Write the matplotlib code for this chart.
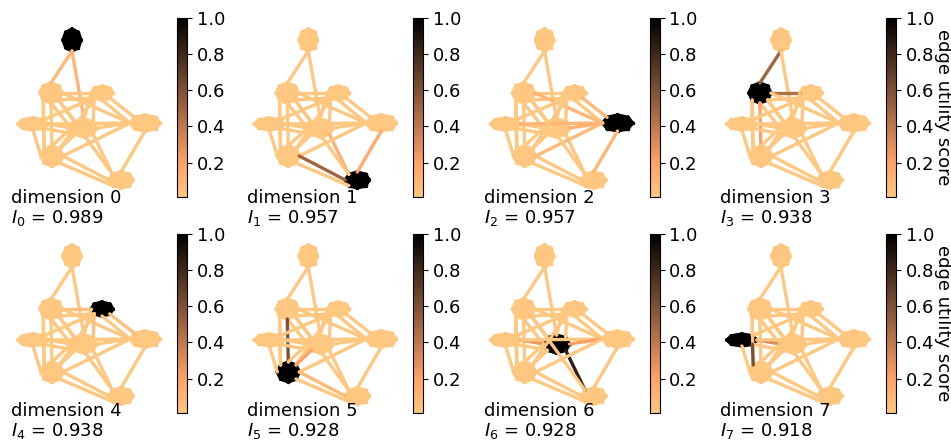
import numpy as np
import matplotlib.pyplot as plt
from matplotlib.collections import LineCollection
from matplotlib.colors import Normalize
from matplotlib.cm import ScalarMappable


# cluster layout, in pixel units of one panel (y grows downwards)
# order: top, bottom-right, right, upper-left, upper-right, lower-left, centre, left
hub_x = [72, 121, 145, 51, 102, 52, 84, 33]
hub_y = [40, 180, 123, 93, 93, 156, 128, 124]
hub_rx = [9, 12, 15, 11, 11, 11, 13, 15]
hub_ry = [11, 8, 8, 10, 7, 10, 9, 6]

# node pattern inside a cluster (ring of 8 + middle node)
ring_u = [-1.0, -0.7, 0.0, 0.7, 1.0, 0.7, 0.0, -0.7, 0.0]
ring_v = [0.0, -0.7, -1.0, -0.7, 0.0, 0.7, 1.0, 0.7, 0.0]

# links between clusters: (cluster a, cluster b, parallel edges)
links = [(0, 3, 1), (0, 6, 1), (3, 4, 2), (3, 6, 2), (3, 7, 1), (3, 5, 2),
         (3, 2, 1), (4, 7, 1), (4, 6, 2), (4, 2, 2), (4, 5, 1), (7, 6, 2),
         (7, 5, 2), (7, 2, 1), (6, 2, 1), (6, 5, 2), (6, 1, 1), (2, 1, 1),
         (5, 2, 1), (5, 1, 2), (3, 1, 1)]

# utility score of the links per dimension (others sit at the floor value)
link_scores = [
    {0: 0.08, 1: 0.1},
    {19: 0.5, 17: 0.15, 16: 0.12},
    {6: 0.1, 9: 0.08, 13: 0.1, 14: 0.12, 17: 0.1, 18: 0.08},
    {0: 0.5, 2: 0.45, 4: 0.25, 5: 0.2, 3: 0.1},
    {2: 0.05, 8: 0.05, 9: 0.05},
    {5: 0.6, 15: 0.2, 19: 0.08},
    {16: 0.85, 11: 0.25, 14: 0.2, 3: 0.15},
    {12: 0.6, 11: 0.3, 3: 0.1},
]
floor_score = 0.01
cluster_score = 1.0

info = [0.989, 0.957, 0.957, 0.938, 0.938, 0.928, 0.928, 0.918]


def node_pos(h, i):
    return (hub_x[h] + ring_u[i] * hub_rx[h], hub_y[h] + ring_v[i] * hub_ry[h])


def facing(a, b):
    dx = hub_x[b] - hub_x[a]
    dy = hub_y[b] - hub_y[a]
    dots = [ring_u[i] * dx + ring_v[i] * dy for i in range(8)]
    return int(np.argmax(dots))


def build_edges(dim):
    segs, vals = [], []
    n = len(ring_u)
    for h in range(len(hub_x)):
        s = cluster_score if h == dim else floor_score
        for i in range(n):
            for j in range(i + 1, n):
                segs.append([node_pos(h, i), node_pos(h, j)])
                vals.append(s)
    for k, (a, b, cnt) in enumerate(links):
        ia, ib = facing(a, b), facing(b, a)
        for p in range(cnt):
            segs.append([node_pos(a, (ia + p) % 8), node_pos(b, (ib - p) % 8)])
            vals.append(link_scores[dim].get(k, floor_score) if p == 0 else floor_score)
    return segs, vals


W, H = 951, 441
fig = plt.figure(figsize=(W / 100, H / 100), dpi=100)
cmap = plt.get_cmap('copper_r')
norm = Normalize(vmin=floor_score, vmax=1.0)

for dim in range(8):
    r, c = divmod(dim, 4)
    x0 = 236.3 * c
    y0 = 216 * r

    ax = fig.add_axes([x0 / W, 1 - (y0 + 200) / H, 170 / W, 200 / H])
    ax.set_xlim(0, 170)
    ax.set_ylim(200, 0)
    ax.axis('off')

    segs, vals = build_edges(dim)
    lc = LineCollection(segs, colors=cmap(norm(vals)), linewidths=2.4,
                        capstyle='round')
    ax.add_collection(lc)

    fig.text((x0 + 11) / W, 1 - (189 + 213 * r) / H,
             f'dimension {dim}\n$I_{dim}$ = {info[dim]:.3f}',
             ha='left', va='top', fontsize=13, linespacing=1.05)

    cax = fig.add_axes([(x0 + 177) / W, 1 - (y0 + 197) / H, 10 / W, 179 / H])
    cb = fig.colorbar(ScalarMappable(norm=norm, cmap=cmap), cax=cax)
    cb.set_ticks([0.2, 0.4, 0.6, 0.8, 1.0])
    cb.ax.tick_params(labelsize=13)
    if c == 3:
        cb.set_label('edge utility score', rotation=270, fontsize=13, labelpad=13)

fig.savefig('out.png', dpi=100)
